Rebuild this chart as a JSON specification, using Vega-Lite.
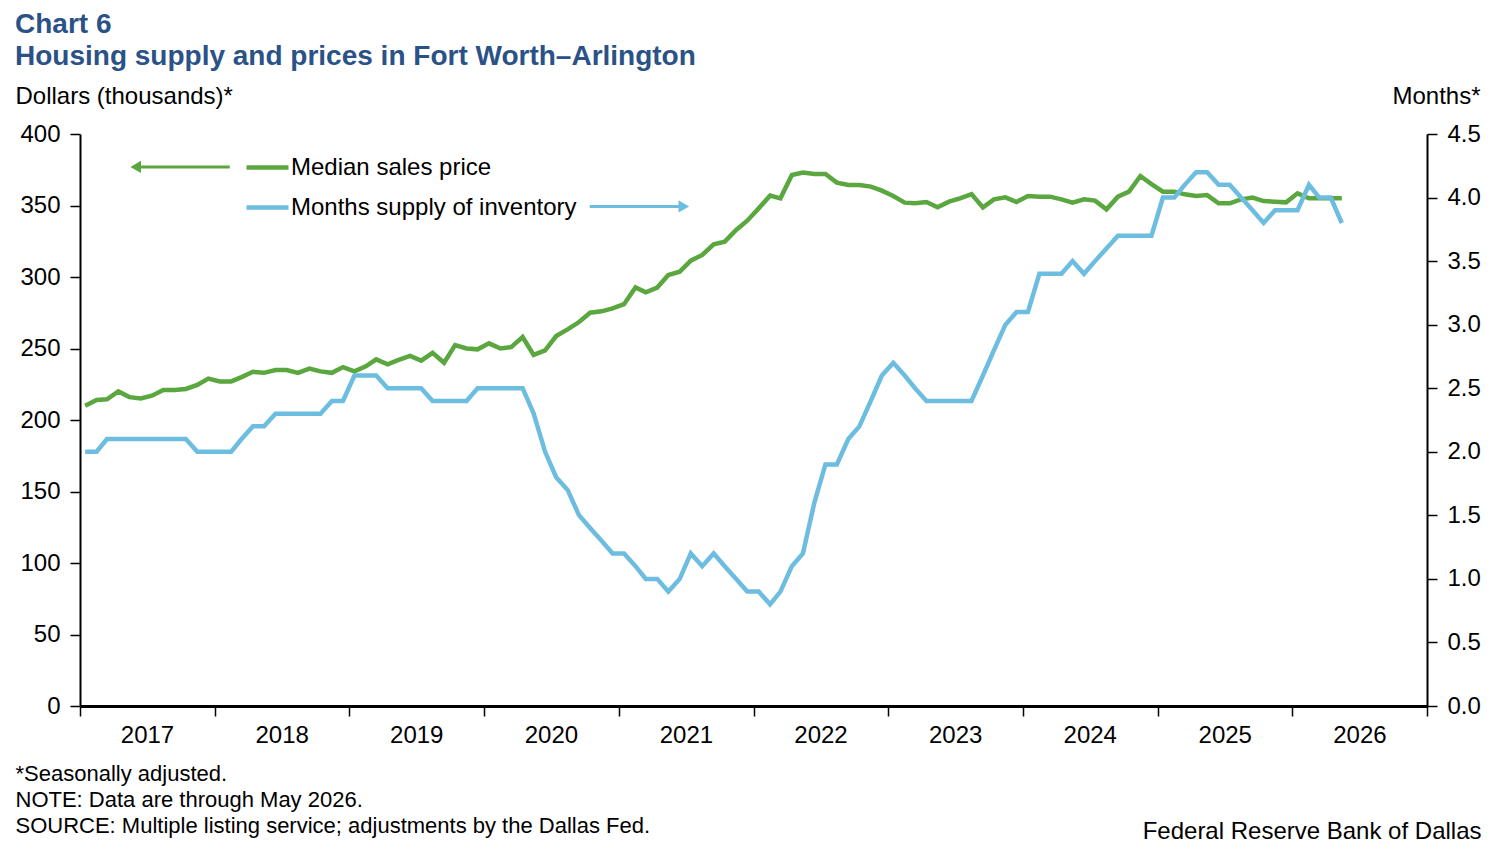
{
  "$schema": "https://vega.github.io/schema/vega-lite/v6.json",
  "autosize": {"type": "none"},
  "width": 1347,
  "height": 572,
  "padding": {"left": 80, "top": 134, "right": 67, "bottom": 140},
  "background": "white",
  "config": {
    "font": "Liberation Sans",
    "view": {"stroke": null},
    "axis": {"grid": false, "labelColor": "#000000", "titleColor": "#000000", "labelFont": "Liberation Sans", "titleFont": "Liberation Sans", "titleFontWeight": "normal"}
  },
  "title": {
    "text": ["Chart 6", "Housing supply and prices in Fort Worth–Arlington"],
    "anchor": "start",
    "frame": "group",
    "dx": -65,
    "offset": 13,
    "fontSize": 28,
    "lineHeight": 32,
    "font": "Liberation Sans",
    "fontWeight": "bold",
    "color": "#2b5287"
  },
  "datasets": {
    "housing": [
      {"date": "2017-01-15", "price": 210, "supply": 2.0},
      {"date": "2017-02-15", "price": 214, "supply": 2.0},
      {"date": "2017-03-15", "price": 214.5, "supply": 2.1},
      {"date": "2017-04-15", "price": 220, "supply": 2.1},
      {"date": "2017-05-15", "price": 216, "supply": 2.1},
      {"date": "2017-06-15", "price": 215, "supply": 2.1},
      {"date": "2017-07-15", "price": 217, "supply": 2.1},
      {"date": "2017-08-15", "price": 221, "supply": 2.1},
      {"date": "2017-09-15", "price": 221, "supply": 2.1},
      {"date": "2017-10-15", "price": 221.7, "supply": 2.1},
      {"date": "2017-11-15", "price": 224.5, "supply": 2.0},
      {"date": "2017-12-15", "price": 229, "supply": 2.0},
      {"date": "2018-01-15", "price": 227, "supply": 2.0},
      {"date": "2018-02-15", "price": 227, "supply": 2.0},
      {"date": "2018-03-15", "price": 230, "supply": 2.1},
      {"date": "2018-04-15", "price": 233.7, "supply": 2.2},
      {"date": "2018-05-15", "price": 233, "supply": 2.2},
      {"date": "2018-06-15", "price": 235, "supply": 2.3},
      {"date": "2018-07-15", "price": 235, "supply": 2.3},
      {"date": "2018-08-15", "price": 233, "supply": 2.3},
      {"date": "2018-09-15", "price": 236, "supply": 2.3},
      {"date": "2018-10-15", "price": 234, "supply": 2.3},
      {"date": "2018-11-15", "price": 233, "supply": 2.4},
      {"date": "2018-12-15", "price": 237, "supply": 2.4},
      {"date": "2019-01-15", "price": 234, "supply": 2.6},
      {"date": "2019-02-15", "price": 237.5, "supply": 2.6},
      {"date": "2019-03-15", "price": 242.4, "supply": 2.6},
      {"date": "2019-04-15", "price": 239, "supply": 2.5},
      {"date": "2019-05-15", "price": 242, "supply": 2.5},
      {"date": "2019-06-15", "price": 244.8, "supply": 2.5},
      {"date": "2019-07-15", "price": 241.5, "supply": 2.5},
      {"date": "2019-08-15", "price": 247, "supply": 2.4},
      {"date": "2019-09-15", "price": 240, "supply": 2.4},
      {"date": "2019-10-15", "price": 252.4, "supply": 2.4},
      {"date": "2019-11-15", "price": 250, "supply": 2.4},
      {"date": "2019-12-15", "price": 249.4, "supply": 2.5},
      {"date": "2020-01-15", "price": 253.6, "supply": 2.5},
      {"date": "2020-02-15", "price": 250, "supply": 2.5},
      {"date": "2020-03-15", "price": 251, "supply": 2.5},
      {"date": "2020-04-15", "price": 258, "supply": 2.5},
      {"date": "2020-05-15", "price": 245.5, "supply": 2.3},
      {"date": "2020-06-15", "price": 248.7, "supply": 2.0},
      {"date": "2020-07-15", "price": 258.7, "supply": 1.8},
      {"date": "2020-08-15", "price": 263.4, "supply": 1.7},
      {"date": "2020-09-15", "price": 268.5, "supply": 1.5},
      {"date": "2020-10-15", "price": 275, "supply": 1.4},
      {"date": "2020-11-15", "price": 276, "supply": 1.3},
      {"date": "2020-12-15", "price": 278, "supply": 1.2},
      {"date": "2021-01-15", "price": 281, "supply": 1.2},
      {"date": "2021-02-15", "price": 292.7, "supply": 1.1},
      {"date": "2021-03-15", "price": 289.3, "supply": 1.0},
      {"date": "2021-04-15", "price": 292.6, "supply": 1.0},
      {"date": "2021-05-15", "price": 301.4, "supply": 0.9},
      {"date": "2021-06-15", "price": 303.7, "supply": 1.0},
      {"date": "2021-07-15", "price": 311.4, "supply": 1.2},
      {"date": "2021-08-15", "price": 315.4, "supply": 1.1},
      {"date": "2021-09-15", "price": 322.9, "supply": 1.2},
      {"date": "2021-10-15", "price": 324.7, "supply": 1.1},
      {"date": "2021-11-15", "price": 332.9, "supply": 1.0},
      {"date": "2021-12-15", "price": 339.4, "supply": 0.9},
      {"date": "2022-01-15", "price": 348, "supply": 0.9},
      {"date": "2022-02-15", "price": 356.9, "supply": 0.8},
      {"date": "2022-03-15", "price": 355, "supply": 0.9},
      {"date": "2022-04-15", "price": 371.3, "supply": 1.1},
      {"date": "2022-05-15", "price": 373, "supply": 1.2},
      {"date": "2022-06-15", "price": 372, "supply": 1.6},
      {"date": "2022-07-15", "price": 372, "supply": 1.9},
      {"date": "2022-08-15", "price": 366, "supply": 1.9},
      {"date": "2022-09-15", "price": 364.3, "supply": 2.1},
      {"date": "2022-10-15", "price": 364.3, "supply": 2.2},
      {"date": "2022-11-15", "price": 363.2, "supply": 2.4},
      {"date": "2022-12-15", "price": 360.4, "supply": 2.6},
      {"date": "2023-01-15", "price": 356.6, "supply": 2.7},
      {"date": "2023-02-15", "price": 352, "supply": 2.6},
      {"date": "2023-03-15", "price": 351.5, "supply": 2.5},
      {"date": "2023-04-15", "price": 352.4, "supply": 2.4},
      {"date": "2023-05-15", "price": 348.7, "supply": 2.4},
      {"date": "2023-06-15", "price": 352.7, "supply": 2.4},
      {"date": "2023-07-15", "price": 355, "supply": 2.4},
      {"date": "2023-08-15", "price": 358, "supply": 2.4},
      {"date": "2023-09-15", "price": 348.7, "supply": 2.6},
      {"date": "2023-10-15", "price": 354.3, "supply": 2.8},
      {"date": "2023-11-15", "price": 355.7, "supply": 3.0},
      {"date": "2023-12-15", "price": 352.4, "supply": 3.1},
      {"date": "2024-01-15", "price": 356.6, "supply": 3.1},
      {"date": "2024-02-15", "price": 356.2, "supply": 3.4},
      {"date": "2024-03-15", "price": 356.2, "supply": 3.4},
      {"date": "2024-04-15", "price": 354.3, "supply": 3.4},
      {"date": "2024-05-15", "price": 352, "supply": 3.5},
      {"date": "2024-06-15", "price": 354.3, "supply": 3.4},
      {"date": "2024-07-15", "price": 353.4, "supply": 3.5},
      {"date": "2024-08-15", "price": 347.3, "supply": 3.6},
      {"date": "2024-09-15", "price": 356.2, "supply": 3.7},
      {"date": "2024-10-15", "price": 359.7, "supply": 3.7},
      {"date": "2024-11-15", "price": 370.6, "supply": 3.7},
      {"date": "2024-12-15", "price": 365, "supply": 3.7},
      {"date": "2025-01-15", "price": 359.7, "supply": 4.0},
      {"date": "2025-02-15", "price": 359.7, "supply": 4.0},
      {"date": "2025-03-15", "price": 357.8, "supply": 4.1},
      {"date": "2025-04-15", "price": 356.6, "supply": 4.2},
      {"date": "2025-05-15", "price": 357.3, "supply": 4.2},
      {"date": "2025-06-15", "price": 351.5, "supply": 4.1},
      {"date": "2025-07-15", "price": 351.5, "supply": 4.1},
      {"date": "2025-08-15", "price": 354.3, "supply": 4.0},
      {"date": "2025-09-15", "price": 355.5, "supply": 3.9},
      {"date": "2025-10-15", "price": 353.1, "supply": 3.8},
      {"date": "2025-11-15", "price": 352.7, "supply": 3.9},
      {"date": "2025-12-15", "price": 352.2, "supply": 3.9},
      {"date": "2026-01-15", "price": 358.5, "supply": 3.9},
      {"date": "2026-02-15", "price": 355, "supply": 4.1},
      {"date": "2026-03-15", "price": 355, "supply": 4.0},
      {"date": "2026-04-15", "price": 355, "supply": 4.0},
      {"date": "2026-05-15", "price": 355, "supply": 3.8}
    ],
    "priceArrow": [{"from": "2018-02-11", "to": "2017-06-01", "level": 377}],
    "supplyArrow": [{"from": "2020-10-14", "to": "2021-06-26", "level": 3.93}]
  },
  "layer": [
    {
      "layer": [
        {
          "data": {"name": "housing"},
          "mark": {"type": "line", "strokeWidth": 4.5, "strokeJoin": "miter"},
          "encoding": {
            "x": {
              "field": "date", "type": "temporal",
              "scale": {"type": "utc", "domain": [{"year": 2017, "month": 1, "date": 1, "utc": true}, {"year": 2027, "month": 1, "date": 1, "utc": true}]},
              "axis": {
                "values": [
                  {"year": 2017, "utc": true}, {"year": 2018, "utc": true}, {"year": 2019, "utc": true},
                  {"year": 2020, "utc": true}, {"year": 2021, "utc": true}, {"year": 2022, "utc": true},
                  {"year": 2023, "utc": true}, {"year": 2024, "utc": true}, {"year": 2025, "utc": true},
                  {"year": 2026, "utc": true}, {"year": 2027, "utc": true}
                ],
                "labelExpr": "utcFormat(datum.value, '%Y') == '2027' ? '' : utcFormat(datum.value, '%Y')",
                "labelOffset": 67,
                "labelAlign": "center",
                "labelFontSize": 24,
                "labelPadding": 7,
                "labelOverlap": false,
                "labelBound": false,
                "labelFlush": false,
                "tickSize": 10,
                "tickWidth": 1.5,
                "tickColor": "#000000",
                "domainColor": "#000000",
                "domainWidth": 3,
                "title": ["*Seasonally adjusted.", "NOTE: Data are through May 2026.", "SOURCE: Multiple listing service; adjustments by the Dallas Fed."],
                "titleFontSize": 22,
                "titleLineHeight": 26,
                "titleAnchor": "start",
                "titleAlign": "left",
                "titleBaseline": "alphabetic",
                "titleX": -65,
                "titleY": 74
              }
            },
            "y": {
              "field": "price", "type": "quantitative",
              "scale": {"domain": [0, 400]},
              "axis": {
                "values": [0, 50, 100, 150, 200, 250, 300, 350, 400],
                "labelFontSize": 24,
                "labelPadding": 10,
                "tickSize": 10,
                "tickWidth": 1.5,
                "tickColor": "#000000",
                "domainColor": "#000000",
                "domainWidth": 2,
                "title": "Dollars (thousands)*",
                "titleFontSize": 24,
                "titleAngle": 0,
                "titleAlign": "left",
                "titleBaseline": "alphabetic",
                "titleX": -65,
                "titleY": -31
              }
            },
            "color": {
              "datum": "Median sales price",
              "scale": {"domain": ["Median sales price", "Months supply of inventory"], "range": ["#5ba73f", "#6dbde0"]},
              "legend": {
                "orient": "none",
                "legendX": 164,
                "legendY": 10,
                "title": null,
                "symbolType": "stroke",
                "symbolSize": 1764,
                "symbolStrokeWidth": 4.5,
                "labelFontSize": 24,
                "labelColor": "#000000",
                "labelFont": "Liberation Sans",
                "labelLimit": 0,
                "labelOffset": 0,
                "rowPadding": 4,
                "padding": 0
              }
            }
          }
        },
        {
          "data": {"name": "priceArrow"},
          "mark": {"type": "rule", "strokeWidth": 3, "color": "#5ba73f"},
          "encoding": {
            "x": {"field": "from", "type": "temporal"},
            "x2": {"field": "to"},
            "y": {"field": "level", "type": "quantitative"}
          }
        },
        {
          "data": {"name": "priceArrow"},
          "mark": {"type": "point", "shape": "triangle-left", "filled": true, "size": 150, "color": "#5ba73f", "opacity": 1},
          "encoding": {
            "x": {"field": "to", "type": "temporal"},
            "y": {"field": "level", "type": "quantitative"}
          }
        }
      ]
    },
    {
      "layer": [
        {
          "data": {"name": "housing"},
          "mark": {"type": "line", "strokeWidth": 4.5, "strokeJoin": "miter"},
          "encoding": {
            "x": {
              "field": "date", "type": "temporal",
              "axis": {
                "orient": "bottom",
                "domain": false,
                "ticks": false,
                "labels": false,
                "title": "Federal Reserve Bank of Dallas",
                "titleFontSize": 24,
                "titleAnchor": "start",
                "titleAlign": "right",
                "titleBaseline": "alphabetic",
                "titleX": 1401,
                "titleY": 132
              }
            },
            "y": {
              "field": "supply", "type": "quantitative",
              "scale": {"domain": [0, 4.5]},
              "axis": {
                "orient": "right",
                "values": [0, 0.5, 1, 1.5, 2, 2.5, 3, 3.5, 4, 4.5],
                "format": ".1f",
                "labelFontSize": 24,
                "labelPadding": 10,
                "tickSize": 10,
                "tickWidth": 1.5,
                "tickColor": "#000000",
                "domainColor": "#000000",
                "domainWidth": 2,
                "title": "Months*",
                "titleFontSize": 24,
                "titleAngle": 0,
                "titleAlign": "right",
                "titleBaseline": "alphabetic",
                "titleX": 53,
                "titleY": -31
              }
            },
            "color": {"datum": "Months supply of inventory"}
          }
        },
        {
          "data": {"name": "supplyArrow"},
          "mark": {"type": "rule", "strokeWidth": 3, "color": "#6dbde0"},
          "encoding": {
            "x": {"field": "from", "type": "temporal"},
            "x2": {"field": "to"},
            "y": {"field": "level", "type": "quantitative"}
          }
        },
        {
          "data": {"name": "supplyArrow"},
          "mark": {"type": "point", "shape": "triangle-right", "filled": true, "size": 150, "color": "#6dbde0", "opacity": 1},
          "encoding": {
            "x": {"field": "to", "type": "temporal"},
            "y": {"field": "level", "type": "quantitative"}
          }
        }
      ]
    }
  ],
  "resolve": {"scale": {"y": "independent"}, "axis": {"x": "independent"}}
}
